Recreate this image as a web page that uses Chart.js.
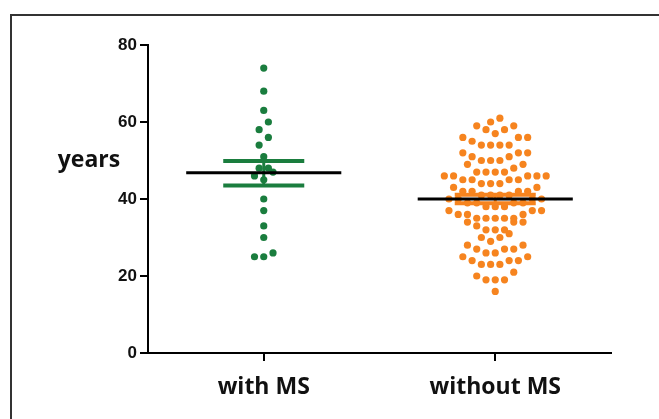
<!DOCTYPE html>
<html><head><meta charset="utf-8">
<script src="https://cdn.jsdelivr.net/npm/chart.js@4.4.1/dist/chart.umd.min.js"></script>
<style>html,body{margin:0;padding:0;background:#fff;}canvas{display:block;}</style>
</head><body>
<canvas id="c" width="659" height="419"></canvas>
<script>
// ---- data ----
const categories = ['with MS', 'without MS'];
const withMS = [74, 68, 63, 60, 58, 56, 54, 51, 48, 48, 47, 46, 45, 40, 37, 33, 30, 26, 25, 25];
const withoutMS = [
  61, 60,
  59, 59, 58, 58, 57,
  56, 56, 56, 55, 54, 54, 54, 54,
  52, 52, 52, 51, 51, 50, 50, 50,
  49, 49, 48, 47, 47, 47, 47,
  46, 46, 46, 46, 46, 45, 45, 45, 45, 44, 44, 44,
  43, 43, 42, 42, 42, 42, 41, 41, 41, 41,
  40, 40, 40, 40, 39, 39, 39, 39, 38, 38, 38,
  37, 37, 37, 36, 36, 36, 35, 35, 35, 35, 35,
  34, 34, 34, 33, 32, 32, 32,
  31, 30, 30, 29,
  28, 28, 27, 27, 27, 26, 26,
  25, 25, 24, 24, 24, 23, 23, 23,
  21, 20, 19, 19, 19,
  16
];
const groupMeans = [46.8, 40.0];
const errLow = [43.5, 38.9];
const errHigh = [49.9, 41.1];
const yTicks = [0, 20, 40, 60, 80];
const yAxisTitle = 'years';

// ---- styling constants ----
const GREEN = '#1a7d3e';
const ORANGE = '#f6841f';
const colors = [GREEN, ORANGE];
const STEP = 0.040;      // horizontal spacing between neighbouring dots (x units)
const BIN_WIDTH = 3;     // values grouped into one row band of the dot plot
const MEAN_HALF = 0.335; // half width of mean line
const CAP_HALF = 0.175;  // half width of error caps

// Prism-like scatter dot plot layout computed from the values
function dotPlot(values, center) {
  const sorted = values.slice().sort((a, b) => a - b);
  const bins = [];
  let cur = null;
  sorted.forEach(v => {
    if (!cur || v >= cur.start + BIN_WIDTH - 0.5) { cur = { start: v, vals: [] }; bins.push(cur); }
    cur.vals.push(v);
  });
  const pts = [];
  bins.forEach(b => {
    const n = b.vals.length;
    const slots = [];
    if (n % 2) {
      slots.push(0);
      for (let k = 1; slots.length < n; k++) { slots.push(-k); if (slots.length < n) slots.push(k); }
    } else {
      for (let k = 0; slots.length < n; k++) { slots.push(-(k + 0.5)); slots.push(k + 0.5); }
    }
    b.vals.forEach((v, i) => pts.push({ x: center + slots[i] * STEP, y: v }));
  });
  return pts;
}

const datasets = [];
[withMS, withoutMS].forEach((vals, g) => {
  datasets.push({
    type: 'scatter', data: dotPlot(vals, g), backgroundColor: colors[g],
    borderWidth: 0, pointRadius: 3.6, pointStyle: 'circle', order: 3
  });
});
[0, 1].forEach(g => {
  const seg = (pts, color, w, order) => datasets.push({
    type: 'line', data: pts, borderColor: color, borderWidth: w, pointRadius: 0,
    fill: false, tension: 0, order, borderCapStyle: 'butt'
  });
  seg([{ x: g - CAP_HALF, y: errHigh[g] }, { x: g + CAP_HALF, y: errHigh[g] }], colors[g], 4, 1);
  seg([{ x: g - CAP_HALF, y: errLow[g] }, { x: g + CAP_HALF, y: errLow[g] }], colors[g], 4, 1);
  seg([{ x: g, y: errLow[g] }, { x: g, y: errHigh[g] }], colors[g], 3, 1);
  seg([{ x: g - MEAN_HALF, y: groupMeans[g] }, { x: g + MEAN_HALF, y: groupMeans[g] }], '#000', 3, 0);
});

const decor = {
  id: 'decor',
  beforeDraw(chart) {
    const ctx = chart.ctx;
    ctx.save();
    ctx.fillStyle = '#fff';
    ctx.fillRect(0, 0, chart.width, chart.height);
    ctx.strokeStyle = '#333';
    ctx.lineWidth = 2;
    ctx.beginPath();
    ctx.moveTo(11, chart.height + 2);
    ctx.lineTo(11, 15);
    ctx.lineTo(chart.width + 2, 15);
    ctx.stroke();
    ctx.restore();
  },
  afterDraw(chart) {
    const ctx = chart.ctx;
    ctx.save();
    ctx.font = 'bold 23px "Open Sans"';
    ctx.fillStyle = '#111';
    ctx.textAlign = 'center';
    ctx.textBaseline = 'middle';
    ctx.fillText(yAxisTitle, 89, 160);
    ctx.restore();
  }
};

new Chart(document.getElementById('c'), {
  data: { datasets },
  options: {
    responsive: false,
    devicePixelRatio: 1,
    animation: false,
    layout: { padding: { left: 0, top: 45, right: 48, bottom: 0 } },
    plugins: { legend: { display: false }, tooltip: { enabled: false } },
    scales: {
      x: {
        type: 'linear', min: -0.5, max: 1.5,
        afterBuildTicks: s => { s.ticks = categories.map((c, i) => ({ value: i })); },
        afterFit: s => { s.height = 66; },
        ticks: {
          callback: v => categories[v] ?? '',
          color: '#111', padding: 13,
          font: { family: 'Open Sans', size: 23, weight: 'bold' }
        },
        grid: { drawOnChartArea: false, drawTicks: true, tickLength: 8, color: '#000', lineWidth: 2 },
        border: { display: true, color: '#000', width: 2 }
      },
      y: {
        type: 'linear', min: 0, max: 80,
        afterBuildTicks: s => { s.ticks = yTicks.map(v => ({ value: v })); },
        afterFit: s => { s.width = 148; },
        ticks: {
          color: '#111', padding: 3,
          font: { family: 'Liberation Sans', size: 17, weight: 'bold' }
        },
        grid: { drawOnChartArea: false, drawTicks: true, tickLength: 8, color: '#000', lineWidth: 2 },
        border: { display: true, color: '#000', width: 2 }
      }
    }
  },
  plugins: [decor]
});
</script>
</body></html>
